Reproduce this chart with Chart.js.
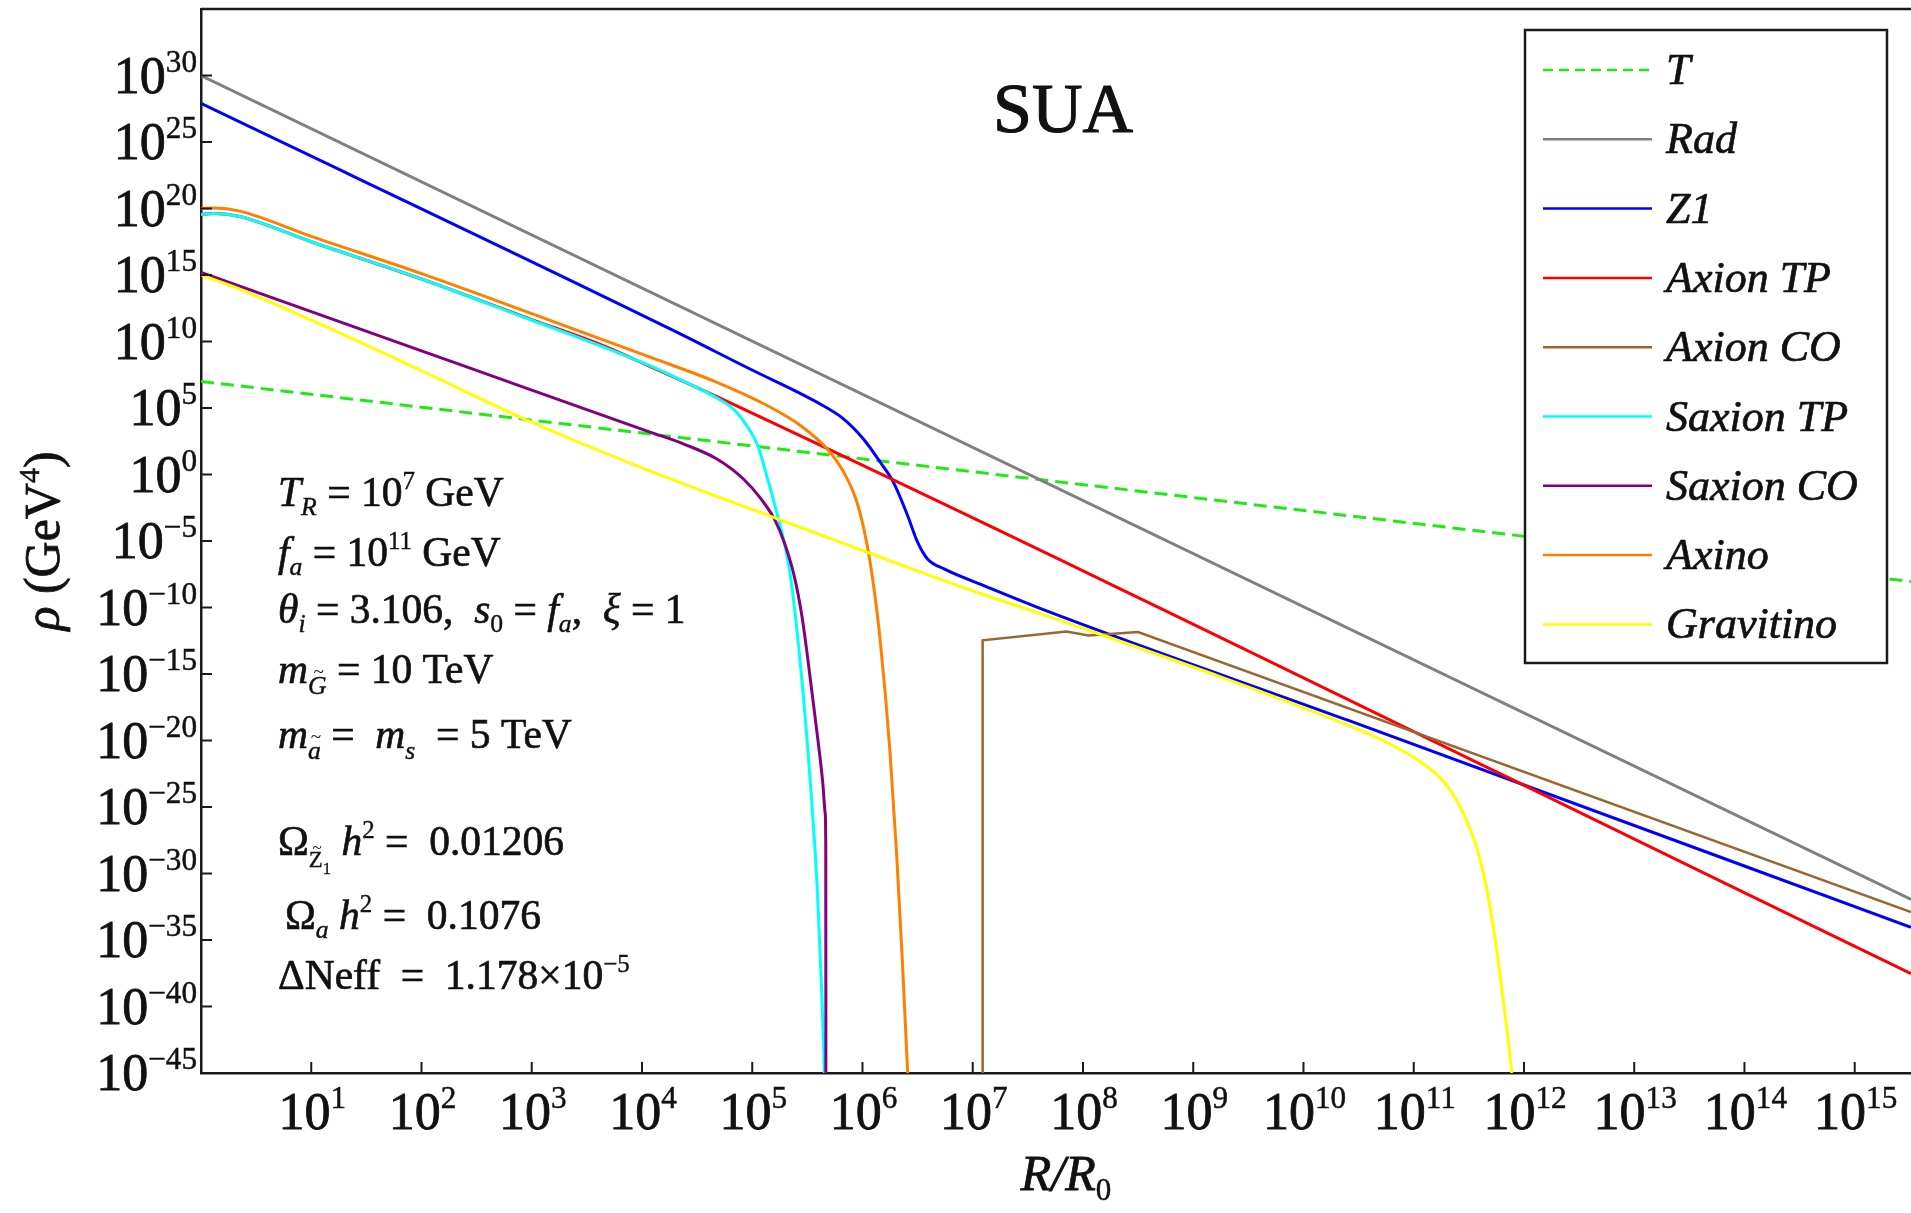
<!DOCTYPE html>
<html>
<head>
<meta charset="utf-8">
<title>SUA energy densities</title>
<script src="https://cdn.jsdelivr.net/npm/chart.js@4.4.1/dist/chart.umd.min.js"></script>
<style>
  html, body { margin: 0; padding: 0; background: #fff; }
  #wrap { width: 1911px; height: 1213px; position: relative; }
</style>
</head>
<body>
<div id="wrap"><canvas id="rhoChart"></canvas></div>
<script>
// R/R0 (x) and rho in GeV^4 (y) for every component
const tempX = [1, 3.24e15];
const tempY = [1e7, 8.91e-9];

const radX = [1, 3.24e15];
const radY = [1e30, 1.12e-32];

const z1X = [1, 1.82e4, 9.55e4, 3.89e5, 6.76e5, 1.02e6, 1.45e6, 1.91e6, 2.57e6, 3.16e6, 3.89e6, 5.50e6, 1.26e7, 5.01e7, 2.63e10, 3.24e15];
const z1Y = [7.94e27, 8.51e10, 8.51e7, 2.63e5, 1.48e4, 468, 8.32, 0.257, 7.94e-4, 8.13e-6, 4.47e-7, 7.94e-8, 4.47e-9, 4.47e-11, 2.95e-19, 8.91e-35];

const axionTpX = [1, 1.318, 2.239, 10, 100, 1000, 3981, 1.202e4, 4.786e4, 3.24e15];
const axionTpY = [3.55e19, 4.17e19, 2.51e19, 3.16e17, 5.01e14, 4.47e11, 7.08e9, 1.26e8, 7.08e5, 2.95e-38];

const axionCoX = [1.216e7, 1.23e7, 7.08e7, 1.122e8, 3.16e8, 3.24e15];
const axionCoY = [1e-45, 3.39e-13, 1.585e-12, 7.94e-13, 1.41e-12, 1.26e-33];

const saxionTpX = [1, 1.318, 2.239, 10, 100, 1000, 3981, 1.202e4, 2.399e4, 4.786e4, 6.761e4, 8.913e4, 1.122e5, 1.380e5, 1.698e5, 1.950e5, 2.239e5, 2.754e5, 3.388e5, 3.890e5, 4.266e5, 4.519e5];
const saxionTpY = [3.55e19, 4.17e19, 2.51e19, 3.16e17, 5.01e14, 3.98e11, 5.62e9, 1.41e8, 1e7, 5.62e5, 8.32e4, 4677, 144.5, 0.457, 7.94e-4, 8.13e-6, 1.41e-8, 2.88e-15, 3.31e-24, 7.08e-32, 1.55e-39, 1e-45];

const saxionCoX = [1, 10, 100, 1000, 1.202e4, 2.399e4, 4.786e4, 8.318e4, 1.202e5, 1.585e5, 1.950e5, 2.399e5, 2.818e5, 3.162e5, 3.802e5, 4.365e5, 4.592e5, 4.645e5, 4.656e5];
const saxionCoY = [1.58e15, 1.78e12, 2.0e9, 2.24e6, 1479, 195, 14.5, 0.457, 0.0145, 4.57e-4, 8.13e-6, 2.51e-8, 2.51e-11, 2.51e-14, 1.26e-19, 6.31e-24, 3.16e-26, 1e-28, 1e-45];

const axinoX = [1, 1.318, 2.239, 10, 100, 1000, 1.202e4, 4.786e4, 1.380e5, 2.754e5, 4.786e5, 6.761e5, 8.913e5, 1.096e6, 1.259e6, 1.445e6, 1.778e6, 2.042e6, 2.291e6, 2.570e6];
const axinoY = [1e20, 1.07e20, 6.31e19, 7.94e17, 1.26e15, 1.26e12, 6.31e8, 8.51e6, 1.48e5, 4677, 83.2, 1.479, 8.13e-3, 6.31e-6, 5.01e-9, 3.98e-13, 1.26e-21, 2.51e-29, 5.01e-37, 1e-45];

const gravitinoX = [1, 1.995, 10, 100, 933, 1e4, 1.698e5, 1.096e6, 1e7, 5.01e7, 2.63e10, 5.37e10, 1.072e11, 1.622e11, 2.138e11, 2.818e11, 3.715e11, 4.571e11, 5.623e11, 6.457e11, 7.244e11, 7.762e11];
const gravitinoY = [1e15, 1.26e14, 3.98e11, 6.31e7, 1.10e4, 3.16, 4.57e-4, 1.45e-6, 1.78e-9, 2.0e-11, 1.26e-19, 9.12e-21, 3.72e-22, 2.69e-23, 1.95e-24, 3.31e-26, 9.55e-29, 8.91e-32, 2.51e-36, 3.98e-40, 2.0e-43, 1e-45];

// decade exponents that carry a tick and label
const xTickPowers = [1, 2, 3, 4, 5, 6, 7, 8, 9, 10, 11, 12, 13, 14, 15];
const yTickPowers = [30, 25, 20, 15, 10, 5, 0, -5, -10, -15, -20, -25, -30, -35, -40, -45];

const serif = '"Liberation Serif", "Times New Roman", serif';
const ink = '#111';

function pts(xs, ys) {
  return xs.map((x, i) => ({ x: x, y: ys[i] }));
}

function series(label, xs, ys, color, extra) {
  return Object.assign({
    label: label,
    data: pts(xs, ys),
    borderColor: color,
    backgroundColor: color,
    borderWidth: 3,
    pointRadius: 0,
    fill: false,
    clip: 0
  }, extra || {});
}

const datasets = [
  series('T', tempX, tempY, 'rgb(30, 235, 20)', { borderDash: [13, 7], borderWidth: 3 }),
  series('Rad', radX, radY, 'rgb(128, 128, 128)'),
  series('Z1', z1X, z1Y, 'rgb(0, 0, 255)', { cubicInterpolationMode: 'monotone' }),
  series('Axion TP', axionTpX, axionTpY, 'rgb(255, 0, 0)', { cubicInterpolationMode: 'monotone' }),
  series('Axion CO', axionCoX, axionCoY, 'rgb(153, 102, 51)', { borderWidth: 2.5 }),
  series('Saxion TP', saxionTpX, saxionTpY, 'rgb(0, 255, 255)', { cubicInterpolationMode: 'monotone' }),
  series('Saxion CO', saxionCoX, saxionCoY, 'rgb(128, 0, 128)', { cubicInterpolationMode: 'monotone' }),
  series('Axino', axinoX, axinoY, 'rgb(255, 128, 0)', { cubicInterpolationMode: 'monotone' }),
  series('Gravitino', gravitinoX, gravitinoY, 'rgb(255, 255, 0)', { cubicInterpolationMode: 'monotone' })
];
// later entries are painted on top
datasets.forEach((d, i) => { d.order = datasets.length - 1 - i; });

// small rich-text helper: runs of {t, i (italic), s (size factor), dy (baseline shift), tilde}
function R(t, o) { return Object.assign({ t: t }, o || {}); }
const SUP = { s: 0.6, dy: -0.4 };
const SUB = { s: 0.62, dy: 0.22 };

function drawRich(ctx, x, y, runs, base, align) {
  ctx.textAlign = 'left';
  ctx.textBaseline = 'alphabetic';
  ctx.fillStyle = ink;
  ctx.strokeStyle = ink;
  const items = runs.map(r => {
    const size = base * (r.s || 1);
    const font = (r.i ? 'italic ' : '') + size.toFixed(1) + 'px ' + serif;
    ctx.font = font;
    return { r: r, size: size, font: font, w: ctx.measureText(r.t).width };
  });
  const total = items.reduce((a, it) => a + it.w, 0);
  let cx = align === 'right' ? x - total : align === 'center' ? x - total / 2 : x;
  items.forEach(it => {
    ctx.font = it.font;
    ctx.lineWidth = it.size * 0.016;
    const by = y + base * (it.r.dy || 0);
    ctx.fillText(it.r.t, cx, by);
    ctx.strokeText(it.r.t, cx, by);
    if (it.r.tilde) {
      ctx.font = (it.size * 0.75).toFixed(1) + 'px ' + serif;
      ctx.textAlign = 'center';
      ctx.fillText('~', cx + it.w / 2 + it.size * 0.06, by - it.size * 0.62);
      ctx.textAlign = 'left';
    }
    cx += it.w;
  });
}

function powLabel(p) {
  return [R('10'), R(String(p).replace('-', '\u2212'), SUP)];
}

const notes = [
  { y: 506, x: 278, runs: [R('T', { i: 1 }), R('R', Object.assign({ i: 1 }, SUB)), R(' = 10'), R('7', SUP), R(' GeV')] },
  { y: 566, x: 278, runs: [R('f', { i: 1 }), R('a', Object.assign({ i: 1 }, SUB)), R(' = 10'), R('11', SUP), R(' GeV')] },
  { y: 623, x: 278, runs: [R('\u03b8', { i: 1 }), R('i', Object.assign({ i: 1 }, SUB)), R(' = 3.106,  '), R('s', { i: 1 }), R('0', SUB), R(' = '), R('f', { i: 1 }), R('a', Object.assign({ i: 1 }, SUB)), R(',  '), R('\u03be', { i: 1 }), R(' = 1')] },
  { y: 683, x: 278, runs: [R('m', { i: 1 }), R('G', { i: 1, s: 0.62, dy: 0.26, tilde: 1 }), R(' = 10 TeV')] },
  { y: 748, x: 278, runs: [R('m', { i: 1 }), R('a', { i: 1, s: 0.62, dy: 0.26, tilde: 1 }), R(' =  '), R('m', { i: 1 }), R('s', { i: 1, s: 0.62, dy: 0.26 }), R('  = 5 TeV')] },
  { y: 855, x: 278, runs: [R('\u03a9'), R('Z', { s: 0.55, dy: 0.3, tilde: 1 }), R('1', { s: 0.4, dy: 0.45 }), R(' '), R('h', { i: 1 }), R('2', SUP), R(' =  0.01206')] },
  { y: 929, x: 285, runs: [R('\u03a9'), R('a', Object.assign({ i: 1 }, SUB)), R(' '), R('h', { i: 1 }), R('2', SUP), R(' =  0.1076')] },
  { y: 989, x: 278, runs: [R('\u0394Neff  =  1.178\u00d710'), R('\u22125', SUP)] }
];

const decorations = {
  id: 'decorations',
  afterDraw(chart) {
    const ctx = chart.ctx;
    const area = chart.chartArea;
    const xs = chart.scales.x;
    const ys = chart.scales.y;
    ctx.save();
    ctx.strokeStyle = '#1a1a1a';

    // top frame
    ctx.lineWidth = 2.5;
    ctx.beginPath();
    ctx.moveTo(area.left, area.top);
    ctx.lineTo(area.right, area.top);
    ctx.stroke();

    // inward ticks and labels
    yTickPowers.forEach(p => {
      const py = ys.getPixelForValue(Math.pow(10, p));
      if (p !== -45) {
        ctx.strokeStyle = '#1a1a1a';
        ctx.lineWidth = 2;
        ctx.beginPath();
        ctx.moveTo(area.left, py);
        ctx.lineTo(area.left + 11, py);
        ctx.stroke();
      }
      drawRich(ctx, 197, py + 17, powLabel(p), 52, 'right');
    });
    xTickPowers.forEach(p => {
      const px = xs.getPixelForValue(Math.pow(10, p));
      ctx.strokeStyle = '#1a1a1a';
      ctx.lineWidth = 2;
      ctx.beginPath();
      ctx.moveTo(px, area.bottom);
      ctx.lineTo(px, area.bottom - 11);
      ctx.stroke();
      drawRich(ctx, px + 1, 1129, powLabel(p), 52, 'center');
    });

    // axis titles
    drawRich(ctx, 1066, 1190, [R('R', { i: 1 }), R('/', { i: 1 }), R('R', { i: 1 }), R('0', { s: 0.62, dy: 0.2 })], 50, 'center');
    ctx.save();
    ctx.translate(59, 541);
    ctx.rotate(-Math.PI / 2);
    drawRich(ctx, 0, 0, [R('\u03c1', { i: 1 }), R(' (GeV'), R('4', SUP), R(')')], 50, 'center');
    ctx.restore();

    // panel title
    drawRich(ctx, 993, 132, [R('SUA')], 70, 'left');

    // model parameters
    notes.forEach(n => drawRich(ctx, n.x, n.y, n.runs, 41.5, 'left'));

    // legend box
    const lx = 1525, ly = 30, lw = 362, lh = 633;
    ctx.fillStyle = '#fff';
    ctx.fillRect(lx, ly, lw, lh);
    ctx.lineWidth = 2.5;
    ctx.strokeStyle = '#1a1a1a';
    ctx.strokeRect(lx, ly, lw, lh);
    chart.data.datasets.forEach((d, i) => {
      const yy = 70 + i * 69.3;
      ctx.strokeStyle = d.borderColor;
      ctx.lineWidth = 2.5;
      ctx.setLineDash(d.borderDash ? [10, 6] : []);
      ctx.beginPath();
      ctx.moveTo(1543, yy);
      ctx.lineTo(1652, yy);
      ctx.stroke();
      ctx.setLineDash([]);
      drawRich(ctx, 1666, yy + 14, [R(d.label, { i: 1 })], 44, 'left');
    });
    ctx.restore();
  }
};

const axisBorder = { display: true, color: '#1a1a1a', width: 2.5 };

new Chart(document.getElementById('rhoChart').getContext('2d'), {
  type: 'line',
  data: { datasets: datasets },
  options: {
    responsive: true,
    maintainAspectRatio: false,
    animation: false,
    layout: { padding: { top: 9, left: 0, right: 0, bottom: 0 } },
    plugins: { legend: { display: false }, tooltip: { enabled: false } },
    scales: {
      x: {
        type: 'logarithmic',
        min: 1,
        max: 3.24e15,
        ticks: { display: false },
        grid: { display: false, drawTicks: false },
        border: axisBorder,
        afterFit: s => { s.height = 140; }
      },
      y: {
        type: 'logarithmic',
        min: 1e-45,
        max: 1e35,
        ticks: { display: false },
        grid: { display: false, drawTicks: false },
        border: axisBorder,
        afterFit: s => { s.width = 201; }
      }
    }
  },
  plugins: [decorations]
});
</script>
</body>
</html>
